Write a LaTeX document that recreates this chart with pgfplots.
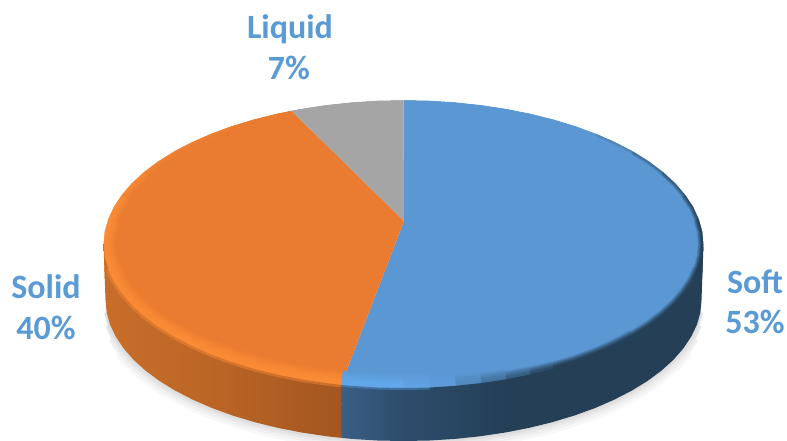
\documentclass[border=0pt]{standalone}
\usepackage{fontspec}
\setmainfont{Carlito}
\usepackage{pgfplots}
\usepackage{pgfplotstable}
\pgfplotsset{compat=1.18}
% slice and edge colours
\definecolor{faceB}{RGB}{91,151,211}
\definecolor{faceO}{RGB}{233,124,48}
\definecolor{faceG}{RGB}{165,165,165}
\definecolor{navy}{RGB}{36,63,86}
\definecolor{lightB}{RGB}{98,168,236}
\definecolor{lightO}{RGB}{250,139,54}
\definecolor{label}{RGB}{91,155,213}
\definecolor{wallB1}{RGB}{58,95,133}
\definecolor{wallB2}{RGB}{46,78,110}
\definecolor{wallO1}{RGB}{200,110,42}
\definecolor{wallO2}{RGB}{186,100,37}
\definecolor{wallO3}{RGB}{163,86,32}
\pgfdeclarehorizontalshading{wallBlue}{100bp}{color(0bp)=(wallB1); color(25bp)=(wallB1); color(33bp)=(wallB2); color(48bp)=(navy); color(100bp)=(navy)}
\pgfdeclarehorizontalshading{wallOrange}{100bp}{color(0bp)=(wallO1); color(25bp)=(wallO1); color(50bp)=(wallO2); color(75bp)=(wallO3); color(100bp)=(wallO3)}
% upper rim of the Soft slice, used for the bevel
\pgfplotstableread{
x y
553.5 119.3
575.6 126.0
596.3 133.7
615.6 142.2
633.3 151.4
649.3 161.4
663.3 172.0
675.4 183.1
685.4 194.8
693.3 206.7
698.9 219.0
702.4 231.4
703.5 244
702.4 256.6
698.9 269.0
693.3 281.3
685.4 293.2
675.4 304.9
663.3 316.0
649.3 326.6
633.3 336.6
615.6 345.8
596.3 354.3
575.6 362.0
553.5 368.7
530.3 374.5
506.1 379.3
481.1 383.1
455.6 385.8
429.7 387.5
403.5 388
377.3 387.5
351.4 385.8
341.1 384.9
}\rimSoft
% upper rim of the Solid slice
\pgfplotstableread{
x y
341.1 384.9
325.9 383.1
300.9 379.3
276.7 374.5
253.5 368.7
231.4 362.0
210.7 354.3
191.4 345.8
173.7 336.6
157.7 326.6
143.7 316.0
131.6 304.9
121.6 293.2
113.7 281.3
108.1 269.0
104.6 256.6
103.5 244
104.6 231.4
108.1 219.0
113.7 206.7
121.6 194.8
131.6 183.1
143.7 172.0
157.7 161.4
173.7 151.4
191.4 142.2
210.7 133.7
231.4 126.0
253.5 119.3
276.7 113.5
291.1 110.5
}\rimSolid
% lower edge of the disc, front half
\pgfplotstableread{
x y
701.5 300
700.4 312.3
697.0 324.5
691.3 336.5
683.5 348.2
673.6 359.6
661.6 370.5
647.6 380.9
631.8 390.6
614.2 399.7
595.1 408.0
574.4 415.5
552.5 422.1
529.4 427.8
505.4 432.5
480.6 436.2
455.2 438.9
429.5 440.5
403.5 441
377.5 440.5
351.8 438.9
341.5 437.9
326.4 436.2
301.6 432.5
277.6 427.8
254.5 422.1
232.6 415.5
211.9 408.0
192.8 399.7
175.2 390.6
159.4 380.9
145.4 370.5
133.4 359.6
123.5 348.2
115.7 336.5
110.0 324.5
106.6 312.3
105.5 300
}\lowerEdge
\begin{document}
\begin{tikzpicture}
\useasboundingbox (0,0) rectangle (787pt,440pt);
\begin{axis}[at={(0,0)},anchor=south west,width=787pt,height=440pt,scale only axis,
  xmin=0,xmax=787,ymin=0,ymax=440,y dir=reverse,hide axis,clip=true]
% top faces of the three slices
\addplot[fill=faceB,draw=none] coordinates {(404,221)(403.5,100)(429.7,100.5)(455.6,102.2)(481.1,104.9)(506.1,108.7)(530.3,113.5)(553.5,119.3)(575.6,126.0)(596.3,133.7)(615.6,142.2)(633.3,151.4)(649.3,161.4)(663.3,172.0)(675.4,183.1)(685.4,194.8)(693.3,206.7)(698.9,219.0)(702.4,231.4)(703.5,244)(702.4,256.6)(698.9,269.0)(693.3,281.3)(685.4,293.2)(675.4,304.9)(663.3,316.0)(649.3,326.6)(633.3,336.6)(615.6,345.8)(596.3,354.3)(575.6,362.0)(553.5,368.7)(530.3,374.5)(506.1,379.3)(481.1,383.1)(455.6,385.8)(429.7,387.5)(403.5,388)(377.3,387.5)(351.4,385.8)(341.1,384.9)} --cycle;
\addplot[fill=faceO,draw=none] coordinates {(404,221)(341.1,384.9)(325.9,383.1)(300.9,379.3)(276.7,374.5)(253.5,368.7)(231.4,362.0)(210.7,354.3)(191.4,345.8)(173.7,336.6)(157.7,326.6)(143.7,316.0)(131.6,304.9)(121.6,293.2)(113.7,281.3)(108.1,269.0)(104.6,256.6)(103.5,244)(104.6,231.4)(108.1,219.0)(113.7,206.7)(121.6,194.8)(131.6,183.1)(143.7,172.0)(157.7,161.4)(173.7,151.4)(191.4,142.2)(210.7,133.7)(231.4,126.0)(253.5,119.3)(276.7,113.5)(291.1,110.5)} --cycle;
\addplot[fill=faceG,draw=none] coordinates {(404,221)(291.1,110.5)(300.9,108.7)(325.9,104.9)(351.4,102.2)(377.3,100.5)(403.5,100)} --cycle;
% bevel along the rim: stacked strokes, narrowest and strongest last
\foreach \k/\t in {7/20,6/40,5/58,4/74,3/88,2/97,1/100}{
  \foreach \a/\b/\c/\s in {2/4/navy!25!faceB/.4,4/6/navy!50!faceB/.5,6/8/navy!70!faceB/.6,8/10/navy!85!faceB/.7,10/14/navy/.8,14/20/navy/.9,20/24/navy/1,24/25/navy!85!faceB/1.1,25/26/navy!65!faceB/1.2,26/27/navy!40!faceB/1.4,27/28/navy!15!faceB/1.6,28/29/lightB!30!faceB/1.8,29/30/lightB!60!faceB/2,30/33/lightB/2}{
    \pgfmathsetmacro\w{2*\k*\s}
    \pgfmathtruncatemacro\e{\b+1}
    \edef\seg{\noexpand\addplot[line width=\w pt,draw={\c!\t!faceB},skip coords between index={0}{\a},skip coords between index={\e}{99}] table {\noexpand\rimSoft};}
    \seg
  }
  \foreach \a/\b/\c/\s in {0/8/lightO/2,8/14/lightO/1.9,14/18/lightO/1.7,18/20/lightO/1.4,20/22/lightO!70!faceO/1.1,22/24/lightO!50!faceO/.8,24/27/lightO!25!faceO/.6}{
    \pgfmathsetmacro\w{2*\k*\s}
    \pgfmathtruncatemacro\e{\b+1}
    \edef\seg{\noexpand\addplot[line width=\w pt,draw={\c!\t!faceO},skip coords between index={0}{\a},skip coords between index={\e}{99}] table {\noexpand\rimSolid};}
    \seg
  }
}
% white surround trims the outer half of the bevel strokes
\addplot[fill=white,draw=none] coordinates {(703.5,244)(702.4,231.4)(698.9,219.0)(693.3,206.7)(685.4,194.8)(675.4,183.1)(663.3,172.0)(649.3,161.4)(633.3,151.4)(615.6,142.2)(596.3,133.7)(575.6,126.0)(553.5,119.3)(530.3,113.5)(506.1,108.7)(481.1,104.9)(455.6,102.2)(429.7,100.5)(403.5,100)(377.3,100.5)(351.4,102.2)(325.9,104.9)(300.9,108.7)(276.7,113.5)(253.5,119.3)(231.4,126.0)(210.7,133.7)(191.4,142.2)(173.7,151.4)(157.7,161.4)(143.7,172.0)(131.6,183.1)(121.6,194.8)(113.7,206.7)(108.1,219.0)(104.6,231.4)(103.5,244)(0,245)(0,0)(787,0)(787,245)} --cycle;
\addplot[fill=white,draw=none] coordinates {(0,244)(103.5,244)(105.5,300)(110.0,324.5)(123.5,348.2)(145.4,370.5)(175.2,390.6)(211.9,408)(254.5,422.1)(301.6,432.5)(351.8,438.9)(403.5,441)(455.2,438.9)(505.4,432.5)(552.5,422.1)(595.1,408)(631.8,390.6)(661.6,370.5)(683.5,348.2)(697,324.5)(701.5,300)(703.5,244)(787,244)(787,440)(0,440)} --cycle;
% soft shadow under the disc, tapering towards both sides
\addplot[line width=22pt,draw={rgb,255:red,248;green,248;blue,248},skip coords between index={0}{4},skip coords between index={34}{99}] table {\lowerEdge};
\addplot[line width=16pt,draw={rgb,255:red,240;green,240;blue,240},skip coords between index={0}{3},skip coords between index={35}{99}] table {\lowerEdge};
\addplot[line width=10pt,draw={rgb,255:red,231;green,231;blue,231},skip coords between index={0}{2},skip coords between index={36}{99}] table {\lowerEdge};
\addplot[line width=5pt,draw={rgb,255:red,222;green,222;blue,222},skip coords between index={0}{1},skip coords between index={37}{99}] table {\lowerEdge};
% side wall of the two front slices
\addplot[shade,shading=wallBlue,draw=none] coordinates {(703.5,244)(702.4,256.6)(698.9,269.0)(693.3,281.3)(685.4,293.2)(675.4,304.9)(663.3,316.0)(649.3,326.6)(633.3,336.6)(615.6,345.8)(596.3,354.3)(575.6,362.0)(553.5,368.7)(530.3,374.5)(506.1,379.3)(481.1,383.1)(455.6,385.8)(429.7,387.5)(403.5,388)(377.3,387.5)(351.4,385.8)(341.1,384.9)(341.5,437.9)(351.8,438.9)(377.5,440.5)(403.5,441)(429.5,440.5)(455.2,438.9)(480.6,436.2)(505.4,432.5)(529.4,427.8)(552.5,422.1)(574.4,415.5)(595.1,408.0)(614.2,399.7)(631.8,390.6)(647.6,380.9)(661.6,370.5)(673.6,359.6)(683.5,348.2)(691.3,336.5)(697.0,324.5)(700.4,312.3)(701.5,300)} --cycle;
\addplot[shade,shading=wallOrange,draw=none] coordinates {(103.5,244)(104.6,256.6)(108.1,269.0)(113.7,281.3)(121.6,293.2)(131.6,304.9)(143.7,316.0)(157.7,326.6)(173.7,336.6)(191.4,345.8)(210.7,354.3)(231.4,362.0)(253.5,368.7)(276.7,374.5)(300.9,379.3)(325.9,383.1)(341.1,384.9)(341.5,437.9)(326.4,436.2)(301.6,432.5)(277.6,427.8)(254.5,422.1)(232.6,415.5)(211.9,408.0)(192.8,399.7)(175.2,390.6)(159.4,380.9)(145.4,370.5)(133.4,359.6)(123.5,348.2)(115.7,336.5)(110.0,324.5)(106.6,312.3)(105.5,300)} --cycle;
% soft transition from the bevel into the wall
\addplot[line width=5pt,draw=lightO,opacity=.45,skip coords between index={15}{99}] table {\rimSolid};
\addplot[line width=4pt,draw=lightB,opacity=.35,skip coords between index={0}{29}] table {\rimSoft};
% labels
\node[anchor=base,font=\fontsize{34}{40}\selectfont\bfseries,text=label] at (axis cs:290,38) {Liquid};
\node[anchor=base,font=\fontsize{34}{40}\selectfont\bfseries,text=label] at (axis cs:289,79) {7\%};
\node[anchor=base,font=\fontsize{34}{40}\selectfont\bfseries,text=label] at (axis cs:755,293) {Soft};
\node[anchor=base,font=\fontsize{34}{40}\selectfont\bfseries,text=label] at (axis cs:755,333) {53\%};
\node[anchor=base,font=\fontsize{34}{40}\selectfont\bfseries,text=label] at (axis cs:46,298) {Solid};
\node[anchor=base,font=\fontsize{34}{40}\selectfont\bfseries,text=label] at (axis cs:46,339) {40\%};
\end{axis}
\end{tikzpicture}
\end{document}
